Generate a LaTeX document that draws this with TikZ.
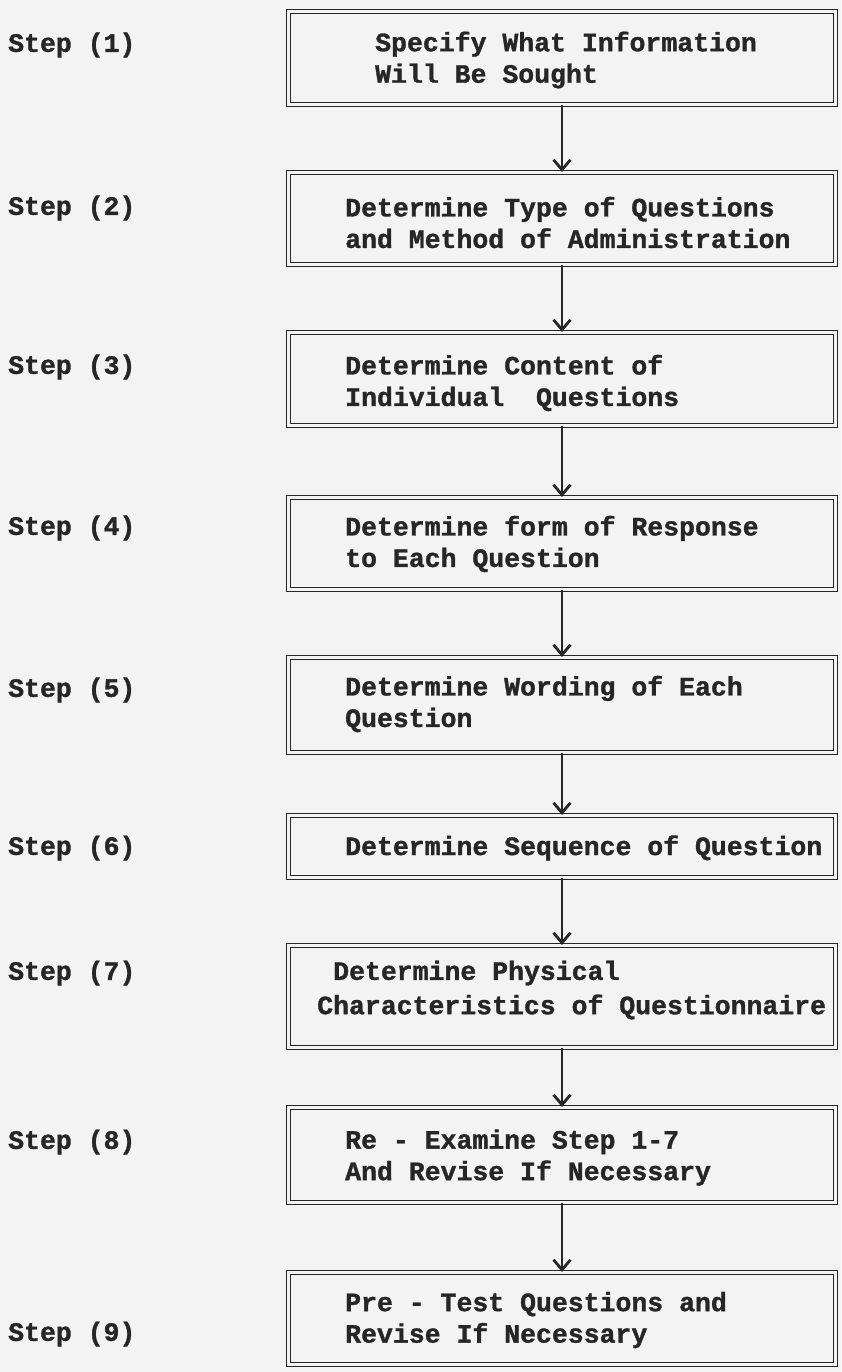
\documentclass[tikz,border=0pt]{standalone}
\usepackage{fontspec}
\setmonofont{Liberation Mono}[BoldFeatures={FakeBold=1.2}]
\usetikzlibrary{arrows.meta}
\definecolor{paper}{HTML}{F3F3F3}
\definecolor{ink}{HTML}{262626}
\tikzset{
  box/.style={draw=ink, double=paper, line width=1.2pt, double distance=2.4pt,
              minimum width=547pt, inner sep=0pt},
  txt/.style={anchor=west, inner sep=0pt, align=left, text=ink,
              font=\fontsize{26.5}{31.5}\selectfont\ttfamily\bfseries},
  steplbl/.style={anchor=west, inner sep=0pt, text=ink,
              font=\fontsize{26.5}{32}\selectfont\ttfamily\bfseries},
  conn/.style={draw=ink, line width=1.5pt,
              -{Straight Barb[length=10pt,width=17pt,line width=2.8pt]}}
}
\begin{document}
\begin{tikzpicture}[x=1pt,y=-1pt]
\path[fill=paper, use as bounding box] (0,0) rectangle (841,1372);

% boxes
\node[box, minimum height=93pt] (b1) at (562,58) {};
\node[box, minimum height=92pt] (b2) at (562,218.5) {};
\node[box, minimum height=93pt] (b3) at (562,379) {};
\node[box, minimum height=92pt] (b4) at (562,543.5) {};
\node[box, minimum height=95pt] (b5) at (562,705) {};
\node[box, minimum height=62pt] (b6) at (562,846.5) {};
\node[box, minimum height=102pt] (b7) at (562,996.5) {};
\node[box, minimum height=95pt] (b8) at (562,1155) {};
\node[box, minimum height=92pt] (b9) at (562,1318.5) {};

% box texts
\node[txt] (t1) at (375,60) {Specify What Information\\Will Be Sought};
\node[txt] (t2) at (345,222.5) {Determine Type of Questions\\and Method of Administration};
\node[txt] (t3) at (345,383) {Determine Content of\\Individual\ \ Questions};
\node[txt] (t4) at (345,544) {Determine form of Response\\to Each Question};
\node[txt] (t5) at (345,704) {Determine Wording of Each\\Question};
\node[txt] (t6) at (345,848) {Determine Sequence of Question};
\node[txt] (t7a) at (333,973) {Determine Physical};
\node[txt] (t7b) at (317,1007) {Characteristics of Questionnaire};
\node[txt] (t8) at (345,1157.5) {Re - Examine Step 1-7\\And Revise If Necessary};
\node[txt] (t9) at (345,1320) {Pre - Test Questions and\\Revise If Necessary};

% step labels
\node[steplbl] (s1) at (8,45) {Step (1)};
\node[steplbl] (s2) at (8,208) {Step (2)};
\node[steplbl] (s3) at (8,367) {Step (3)};
\node[steplbl] (s4) at (8,528) {Step (4)};
\node[steplbl] (s5) at (8,690) {Step (5)};
\node[steplbl] (s6) at (8,848) {Step (6)};
\node[steplbl] (s7) at (8,973) {Step (7)};
\node[steplbl] (s8) at (8,1142) {Step (8)};
\node[steplbl] (s9) at (8,1334) {Step (9)};

% connectors
\draw[conn] (b1.south) -- (b2.north);
\draw[conn] (b2.south) -- (b3.north);
\draw[conn] (b3.south) -- (b4.north);
\draw[conn] (b4.south) -- (b5.north);
\draw[conn] (b5.south) -- (b6.north);
\draw[conn] (b6.south) -- (b7.north);
\draw[conn] (b7.south) -- (b8.north);
\draw[conn] (b8.south) -- (b9.north);
\end{tikzpicture}
\end{document}
